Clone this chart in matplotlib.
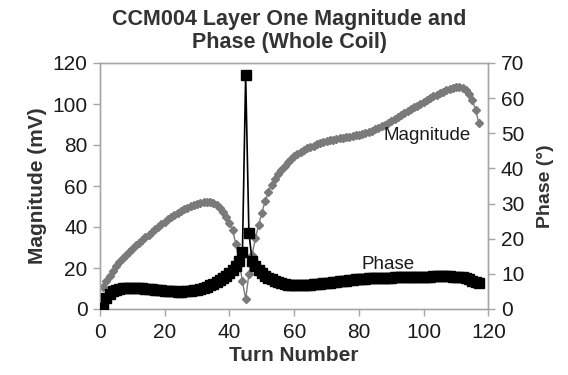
import matplotlib
matplotlib.use("Agg")
import matplotlib.pyplot as plt

plt.rcParams['font.family'] = ['Liberation Sans', 'DejaVu Sans']

turns = list(range(1, 118))

magnitude = [
    10.5, 13.5, 16.0, 18.5, 21.0, 23.0, 24.8, 26.5, 28.0, 29.5,
    31.0, 32.3, 33.6, 34.9, 36.2, 37.5, 38.8, 40.1, 41.4, 42.6,
    43.8, 44.8, 45.8, 46.8, 47.7, 48.6, 49.4, 50.1, 50.8, 51.4,
    51.9, 52.3, 52.4, 52.2, 51.7, 50.8, 49.4, 47.4, 44.9, 42.0,
    38.3, 31.5, 23.0, 13.5, 4.9, 17.0, 26.5, 34.5, 41.0, 47.0,
    52.5, 57.0, 60.5, 63.5, 66.0, 68.0, 70.0, 71.8, 73.3, 74.6,
    75.7, 76.7, 77.6, 78.4, 79.1, 79.7, 80.3, 80.8, 81.3, 81.8,
    82.2, 82.6, 83.0, 83.2, 83.5, 83.8, 84.1, 84.4, 84.7, 85.0,
    85.4, 85.9, 86.4, 87.0, 87.7, 88.4, 89.1, 89.9, 90.7, 91.6,
    92.5, 93.5, 94.5, 95.5, 96.5, 97.4, 98.3, 99.2, 100.1, 101.0,
    101.9, 102.8, 103.7, 104.5, 105.3, 106.0, 106.7, 107.3, 107.8, 108.2,
    108.3, 107.9, 106.8, 104.8, 101.8, 97.2, 90.8,
]

phase = [
    0.3, 3.0, 4.4, 5.0, 5.4, 5.7, 5.9, 6.0, 6.1, 6.1,
    6.1, 6.0, 5.9, 5.8, 5.7, 5.6, 5.5, 5.4, 5.3, 5.2,
    5.1, 5.0, 5.0, 4.9, 4.9, 5.0, 5.0, 5.1, 5.3, 5.5,
    5.7, 6.0, 6.3, 6.7, 7.1, 7.6, 8.2, 8.8, 9.5, 10.3,
    11.2, 12.3, 13.7, 16.1, 66.6, 21.7, 13.8, 12.2, 11.1, 10.2,
    9.5, 8.9, 8.4, 8.0, 7.6, 7.3, 7.1, 6.9, 6.8, 6.7,
    6.7, 6.7, 6.7, 6.8, 6.9, 7.0, 7.1, 7.2, 7.3, 7.4,
    7.5, 7.6, 7.7, 7.9, 8.0, 8.1, 8.2, 8.3, 8.4, 8.5,
    8.6, 8.6, 8.7, 8.7, 8.8, 8.8, 8.8, 8.9, 8.9, 8.9,
    9.0, 9.0, 9.0, 9.1, 9.1, 9.1, 9.1, 9.2, 9.2, 9.2,
    9.2, 9.2, 9.3, 9.3, 9.3, 9.3, 9.3, 9.3, 9.2, 9.2,
    9.1, 9.0, 8.8, 8.5, 8.1, 7.7, 7.3,
]

x_ticks = [0, 20, 40, 60, 80, 100, 120]
mag_ticks = [0, 20, 40, 60, 80, 100, 120]
phase_ticks = [0, 10, 20, 30, 40, 50, 60, 70]

title = "CCM004 Layer One Magnitude and\nPhase (Whole Coil)"

txt = '#1a1a1a'
axcol = '#a6a6a6'
mag_col = '#7a7a7a'

fig = plt.figure(figsize=(5.68, 3.75), dpi=100)
ax = fig.add_axes([0.176, 0.176, 0.684, 0.656])
ax2 = ax.twinx()

ax.plot(turns, magnitude, color=mag_col, lw=1.0, marker='D', markersize=4.0,
        markerfacecolor=mag_col, markeredgecolor=mag_col, zorder=3)
ax2.plot(turns, phase, color='black', lw=1.2, marker='s', markersize=6.8,
         markerfacecolor='black', markeredgecolor='black', zorder=3)

ax.set_xlim(0, 120)
ax.set_ylim(0, 120)
ax2.set_ylim(0, 70)
ax.set_xticks(x_ticks)
ax.set_yticks(mag_ticks)
ax2.set_yticks(phase_ticks)

for a in (ax, ax2):
    for s in a.spines.values():
        s.set_color(axcol)
        s.set_linewidth(1.0)
    a.tick_params(colors=axcol, labelcolor=txt, labelsize=15, length=5, width=1.0,
                  direction='out')
ax.tick_params(axis='x', pad=5)
ax.tick_params(axis='y', pad=4)
ax2.tick_params(axis='y', pad=4)

ax.set_xlabel("Turn Number", fontsize=15, fontweight='bold', color='#333333', labelpad=3)
ax.set_ylabel("Magnitude (mV)", fontsize=15, fontweight='bold', color='#333333', labelpad=4)
ax2.set_ylabel("Phase (°)", fontsize=14, fontweight='bold', color='#333333', labelpad=9)

ax.text(101, 84.4, "Magnitude", fontsize=13.5, color=txt, ha='center', va='center')
ax2.text(89, 12.8, "Phase", fontsize=13.5, color=txt, ha='center', va='center')

fig.text(0.51, 0.918, title, fontsize=15.5, fontweight='bold', color='#333333',
         ha='center', va='center', linespacing=1.12)

fig.savefig("out.png", dpi=100)
